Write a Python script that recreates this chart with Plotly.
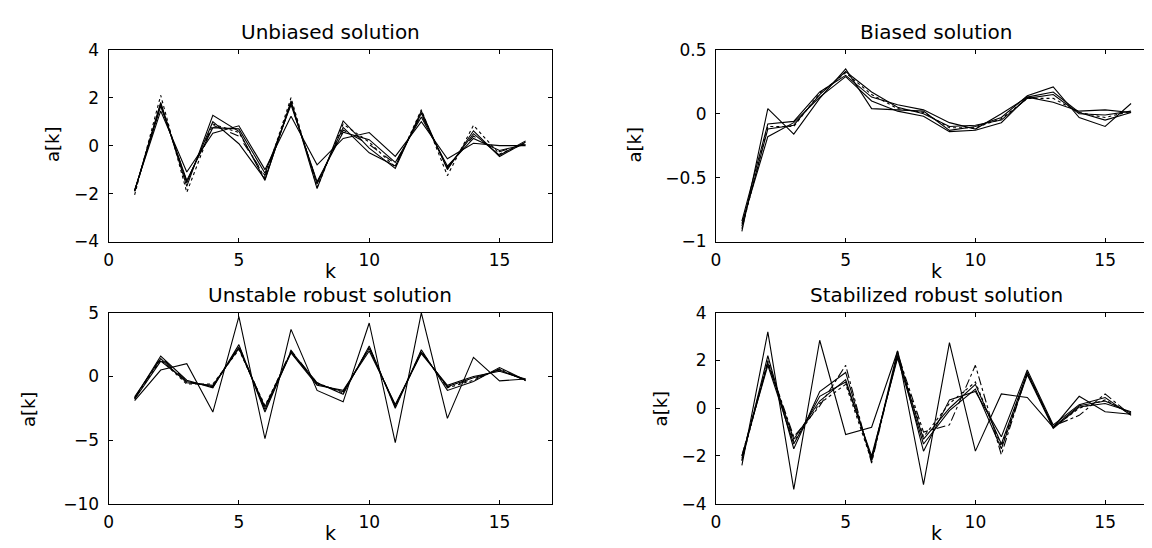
import plotly.graph_objects as go

W, H = 1152, 548
k = list(range(1, 17))

# Unbiased solution
unb_1 = [-1.90, 1.80, -1.70, 1.27, 0.60, -1.45, 1.87, -1.79, 1.03, -0.10, -0.95, 1.45, -1.00, 0.62, -0.45, 0.15]
unb_2 = [-1.85, 1.45, -1.10, 0.52, 0.83, -1.00, 1.23, -0.80, 0.30, 0.55, -0.45, 1.00, -0.55, 0.10, 0.00, 0.00]
unb_3 = [-1.90, 1.65, -1.45, 0.75, 0.70, -1.15, 1.70, -1.50, 0.56, 0.25, -0.70, 1.20, -0.85, 0.30, -0.20, 0.05]
unb_4 = [-1.90, 1.75, -1.55, 1.00, 0.08, -1.40, 1.80, -1.60, 0.76, -0.30, -0.85, 1.35, -0.95, 0.50, -0.40, 0.20]
unb_5 = [-1.90, 1.70, -1.50, 0.85, 0.40, -1.25, 1.75, -1.55, 0.65, 0.05, -0.75, 1.30, -0.90, 0.40, -0.25, 0.10]
unb_6 = [-2.05, 2.10, -1.95, 0.90, 0.55, -1.35, 2.00, -1.75, 0.90, 0.15, -0.90, 1.50, -1.25, 0.85, -0.35, 0.10]

# Biased solution
bia_1 = [-0.92, 0.04, -0.16, 0.12, 0.35, 0.04, 0.03, 0.02, -0.13, -0.10, -0.03, 0.14, 0.21, -0.03, -0.10, 0.08]
bia_2 = [-0.84, -0.08, -0.06, 0.17, 0.30, 0.13, 0.07, 0.03, -0.07, -0.12, 0.00, 0.13, 0.09, 0.02, 0.03, 0.01]
bia_3 = [-0.88, -0.12, -0.09, 0.15, 0.33, 0.17, 0.05, 0.00, -0.10, -0.09, -0.05, 0.12, 0.15, 0.00, -0.01, 0.02]
bia_4 = [-0.86, -0.18, -0.07, 0.13, 0.29, 0.10, 0.02, -0.02, -0.14, -0.13, -0.07, 0.13, 0.17, 0.01, -0.05, 0.01]
bia_5 = [-0.90, -0.10, -0.10, 0.16, 0.32, 0.15, 0.04, 0.01, -0.11, -0.11, -0.04, 0.12, 0.12, 0.01, -0.03, 0.02]

# Unstable robust solution
uns_1 = [-1.90, 0.50, 1.00, -2.80, 4.70, -4.90, 3.70, -1.10, -2.00, 4.20, -5.20, 5.00, -3.30, 1.50, -0.35, -0.20]
uns_2 = [-1.70, 1.60, -0.30, -0.90, 2.50, -2.80, 2.00, -0.50, -1.40, 2.40, -2.50, 2.10, -1.10, -0.40, 0.70, -0.30]
uns_3 = [-1.60, 1.40, -0.50, -0.70, 2.20, -2.40, 1.90, -0.60, -1.20, 2.20, -2.30, 1.90, -0.80, -0.10, 0.50, -0.30]
uns_4 = [-1.80, 1.20, -0.40, -0.80, 2.30, -2.60, 1.85, -0.70, -1.10, 2.00, -2.20, 1.80, -0.70, 0.00, 0.40, -0.20]
uns_5 = [-1.70, 1.30, -0.60, -0.60, 2.10, -2.30, 1.90, -0.50, -1.30, 2.30, -2.40, 2.00, -0.90, -0.30, 0.60, -0.35]
uns_6 = [-1.75, 1.50, -0.35, -0.85, 2.40, -2.50, 2.05, -0.55, -1.25, 2.30, -2.35, 1.95, -0.85, -0.20, 0.55, -0.30]

# Stabilized robust solution
sta_1 = [-2.40, 3.20, -3.40, 2.85, -1.10, -0.80, 2.40, -3.20, 2.75, -1.80, 0.60, 0.45, -0.80, 0.50, -0.15, -0.25]
sta_2 = [-2.20, 2.20, -1.70, 0.70, 1.50, -2.20, 2.40, -1.80, 0.35, 0.70, -1.20, 1.60, -0.70, 0.15, 0.45, -0.30]
sta_3 = [-2.10, 1.90, -1.30, 0.30, 1.20, -2.10, 2.20, -1.30, 0.00, 1.00, -1.50, 1.50, -0.80, 0.10, 0.30, -0.20]
sta_4 = [-2.00, 1.80, -1.50, 0.50, 1.10, -2.00, 2.10, -1.50, -0.10, 0.80, -1.70, 1.40, -0.85, 0.05, 0.20, -0.15]
sta_5 = [-2.00, 1.95, -1.20, 0.10, 1.80, -2.30, 2.30, -1.00, -0.70, 1.80, -1.95, 1.50, -0.75, -0.30, 0.60, -0.30]
sta_6 = [-2.20, 2.00, -1.40, 0.20, 1.00, -2.20, 2.25, -1.20, 0.20, 1.10, -1.60, 1.45, -0.80, 0.00, 0.35, -0.25]

titles = ["Unbiased solution", "Biased solution", "Unstable robust solution", "Stabilized robust solution"]
xticks = [0, 5, 10, 15]
yticks_unb = [-4, -2, 0, 2, 4]
yticks_bia = [-1, -0.5, 0, 0.5]
yticks_uns = [-10, -5, 0, 5]
yticks_sta = [-4, -2, 0, 2, 4]

panels = [
    ([unb_1, unb_2, unb_3, unb_4, unb_5, unb_6], ["solid", "solid", "solid", "solid", "dash", "dot"], yticks_unb),
    ([bia_1, bia_2, bia_3, bia_4, bia_5], ["solid", "solid", "solid", "solid", "dot"], yticks_bia),
    ([uns_1, uns_2, uns_3, uns_4, uns_5, uns_6], ["solid", "solid", "solid", "solid", "dot", "dash"], yticks_uns),
    ([sta_1, sta_2, sta_3, sta_4, sta_5, sta_6], ["solid", "solid", "solid", "solid", "dashdot", "dot"], yticks_sta),
]

# pixel boxes: (left, right, top, bottom)
boxes = [(96, 541, 33, 232), (706, 1149, 33, 232), (96, 541, 306, 504), (706, 1149, 306, 504)]
ylabel_x = [39, 624, 15, 650]
ylabel_y = [131, 131, 406, 405]

FONT = "DejaVu Sans"
fig = go.Figure()
ann = []
for i, ((series, dashes, yt), (l, r, t, b)) in enumerate(zip(panels, boxes)):
    n = "" if i == 0 else str(i + 1)
    for s, d in zip(series, dashes):
        fig.add_trace(go.Scatter(x=k, y=s, mode="lines", line=dict(color="black", width=1.1, dash=d),
                                 xaxis="x" + n, yaxis="y" + n, showlegend=False, hoverinfo="skip"))
    axcommon = dict(showline=True, linecolor="black", linewidth=1, mirror="allticks", ticks="inside",
                    ticklen=4, tickcolor="black", showgrid=False, zeroline=False,
                    tickfont=dict(family=FONT, size=17, color="black"))
    fig.layout["xaxis" + n] = dict(domain=[l / W, r / W], range=[0, 17], tickvals=xticks,
                                   anchor="y" + n, ticklabelstandoff=3, **axcommon)
    fig.layout["yaxis" + n] = dict(domain=[1 - b / H, 1 - t / H], range=[yt[0], yt[-1]], tickvals=yt,
                                   anchor="x" + n, ticklabelstandoff=5, **axcommon)
    cx = (l + r) / 2
    ann.append(dict(text=titles[i], x=cx / W, y=1 - (t - 18) / H, xref="paper", yref="paper",
                    xanchor="center", yanchor="middle", showarrow=False,
                    font=dict(family=FONT, size=20, color="black")))
    ann.append(dict(text="k", x=cx / W, y=1 - (b + 31) / H, xref="paper", yref="paper",
                    xanchor="center", yanchor="middle", showarrow=False,
                    font=dict(family=FONT, size=19, color="black")))
    ann.append(dict(text="a[k]", x=ylabel_x[i] / W, y=1 - ylabel_y[i] / H, xref="paper", yref="paper",
                    xanchor="center", yanchor="middle", showarrow=False, textangle=-90,
                    font=dict(family=FONT, size=18, color="black")))

fig.update_layout(width=W, height=H, margin=dict(l=0, r=0, t=0, b=0),
                  paper_bgcolor="white", plot_bgcolor="white", annotations=ann)
fig.write_html("out.html")
